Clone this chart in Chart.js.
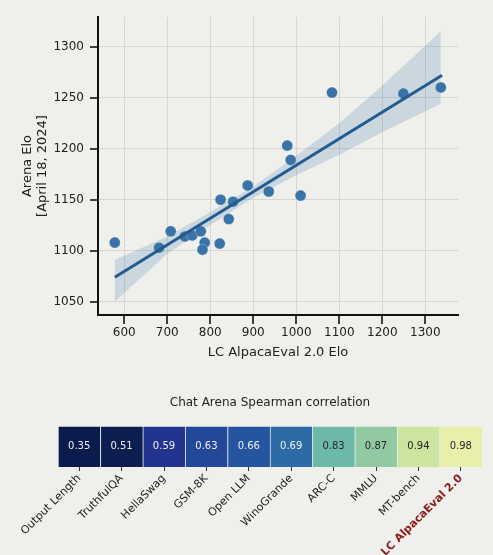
<!DOCTYPE html>
<html>
<head>
<meta charset="utf-8">
<script src="https://cdn.jsdelivr.net/npm/chart.js@4.4.1/dist/chart.umd.min.js"></script>
<style>
  html, body { margin: 0; padding: 0; background: #efefeb; }
  #wrap { position: relative; width: 493px; height: 555px; }
  #scatterBox { position: absolute; left: 0; top: 0; width: 493px; height: 380px; }
  #heatBox { position: absolute; left: 0; top: 380px; width: 493px; height: 175px; }
</style>
</head>
<body>
<div id="wrap">
  <div id="scatterBox"><canvas id="scatter"></canvas></div>
  <div id="heatBox"><canvas id="heat"></canvas></div>
</div>
<script>
// scatter: LC AlpacaEval 2.0 Elo vs Arena Elo
const aeElo = [578, 681, 708, 741, 758, 778, 787, 782, 822, 824, 843, 853, 887, 936, 979, 987, 1010, 1083, 1249, 1336];
const arenaElo = [1108, 1103, 1119, 1114, 1115, 1119, 1108, 1101, 1107, 1150, 1131, 1148, 1164, 1158, 1203, 1189, 1154, 1255, 1254, 1260];

// regression line and its confidence band
const fitX = [578, 1339];
const fitY = [1074, 1272];
const bandX = [578, 700, 800, 900, 1000, 1100, 1200, 1336];
const bandUpper = [1091, 1114, 1138, 1163, 1193, 1225, 1262, 1315];
const bandLower = [1050, 1097, 1125, 1152, 1174, 1194, 1216, 1244];

const xTicks = [600, 700, 800, 900, 1000, 1100, 1200, 1300];
const yTicks = [1050, 1100, 1150, 1200, 1250, 1300];

// heatmap: Spearman correlation with Chat Arena
const benchmarks = ["Output Length", "TruthfulQA", "HellaSwag", "GSM-8K", "Open LLM", "WinoGrande", "ARC-C", "MMLU", "MT-bench", "LC AlpacaEval 2.0"];
const spearman = [0.35, 0.51, 0.59, 0.63, 0.66, 0.69, 0.83, 0.87, 0.94, 0.98];
const cellColors = ["#0b1c4c", "#0c1e50", "#22348e", "#23489a", "#26559f", "#2c6ba6", "#6db9a9", "#92c9a2", "#cde4a0", "#e7efaa"];

const font = "'DejaVu Sans', sans-serif";
Chart.defaults.font.family = font;
Chart.defaults.color = "#222";

const toPts = (xs, ys) => xs.map((x, i) => ({ x: x, y: ys[i] }));

// outward tick marks on both axes
const tickMarks = {
	id: "outTicks",
	afterDraw(chart) {
		const ctx = chart.ctx;
		const xs = chart.scales.x;
		const ys = chart.scales.y;
		const area = chart.chartArea;
		ctx.save();
		ctx.strokeStyle = "#111";
		ctx.lineWidth = 1.6;
		xTicks.forEach((v) => {
			const px = Math.round(xs.getPixelForValue(v));
			ctx.beginPath();
			ctx.moveTo(px, area.bottom);
			ctx.lineTo(px, area.bottom + 9);
			ctx.stroke();
		});
		yTicks.forEach((v) => {
			const py = Math.round(ys.getPixelForValue(v));
			ctx.beginPath();
			ctx.moveTo(area.left, py);
			ctx.lineTo(area.left - 8, py);
			ctx.stroke();
		});
		ctx.restore();
	}
};

new Chart(document.getElementById("scatter"), {
	type: "scatter",
	data: {
		datasets: [
			{
				data: toPts(bandX, bandLower),
				showLine: true,
				pointRadius: 0,
				borderWidth: 0,
				borderColor: "rgba(0,0,0,0)",
				order: 4
			},
			{
				data: toPts(bandX, bandUpper),
				showLine: true,
				pointRadius: 0,
				borderWidth: 0,
				borderColor: "rgba(0,0,0,0)",
				fill: "-1",
				backgroundColor: "rgba(60,120,175,0.2)",
				order: 3
			},
			{
				data: toPts(aeElo, arenaElo),
				pointRadius: 5.5,
				pointBackgroundColor: "#3a73a8",
				pointBorderColor: "rgba(255,255,255,0.35)",
				pointBorderWidth: 0.8,
				order: 2
			},
			{
				data: toPts(fitX, fitY),
				showLine: true,
				pointRadius: 0,
				borderColor: "#245b8e",
				borderWidth: 3,
				order: 1
			}
		]
	},
	options: {
		responsive: true,
		maintainAspectRatio: false,
		animation: false,
		layout: { padding: { top: 17, right: 35, left: 0, bottom: 20 } },
		plugins: {
			legend: { display: false },
			tooltip: { enabled: false }
		},
		scales: {
			x: {
				type: "linear",
				min: 539,
				max: 1376,
				afterBuildTicks: (scale) => {
					scale.ticks = xTicks.map((v) => ({ value: v }));
				},
				afterFit: (scale) => {
					scale.height = 45;
					scale.paddingLeft = 0;
					scale.paddingRight = 0;
				},
				ticks: { font: { size: 12 }, padding: 11, maxRotation: 0, color: "#222", callback: (v) => String(v) },
				grid: { color: "#d6d6d2", drawTicks: false, lineWidth: 1 },
				border: { color: "#111", width: 2 },
				title: {
					display: true,
					text: "LC AlpacaEval 2.0 Elo",
					font: { size: 13 },
					padding: { top: 2, bottom: 0 },
					color: "#222"
				}
			},
			y: {
				type: "linear",
				min: 1037,
				max: 1329,
				afterBuildTicks: (scale) => {
					scale.ticks = yTicks.map((v) => ({ value: v }));
				},
				afterFit: (scale) => {
					scale.width = 98;
					scale.paddingTop = 0;
					scale.paddingBottom = 0;
				},
				ticks: { font: { size: 12 }, padding: 14, color: "#222", callback: (v) => String(v) },
				grid: { color: "#d6d6d2", drawTicks: false, lineWidth: 1 },
				border: { color: "#111", width: 2 },
				title: {
					display: true,
					text: ["Arena Elo", "[April 18, 2024]"],
					font: { size: 13, lineHeight: 1.15 },
					padding: { top: 20, bottom: 4 },
					color: "#222"
				}
			}
		}
	},
	plugins: [tickMarks]
});

const cellText = {
	id: "cellText",
	afterDatasetsDraw(chart) {
		const ctx = chart.ctx;
		const meta = chart.getDatasetMeta(0);
		ctx.save();
		ctx.font = "10px " + font;
		ctx.textAlign = "center";
		ctx.textBaseline = "middle";
		meta.data.forEach((bar, i) => {
			const cy = (bar.y + bar.base) / 2;
			ctx.fillStyle = spearman[i] < 0.75 ? "#eef0f4" : "#262626";
			ctx.fillText(spearman[i].toFixed(2), bar.x, cy);
		});
		ctx.restore();
	}
};

new Chart(document.getElementById("heat"), {
	type: "bar",
	data: {
		labels: benchmarks,
		datasets: [
			{
				data: spearman.map(() => 1),
				backgroundColor: cellColors,
				borderColor: "rgba(235,238,235,0.7)",
				borderWidth: { left: 1, right: 0, top: 0, bottom: 0 },
				borderSkipped: false,
				barPercentage: 1,
				categoryPercentage: 1
			}
		]
	},
	options: {
		responsive: true,
		maintainAspectRatio: false,
		animation: false,
		layout: { padding: { top: 0, right: 11, left: 58, bottom: 0 } },
		plugins: {
			legend: { display: false },
			tooltip: { enabled: false },
			title: {
				display: true,
				text: "Chat Arena Spearman correlation",
				font: { size: 12, weight: "normal" },
				color: "#222",
				padding: { top: 16, bottom: 16 }
			}
		},
		scales: {
			x: {
				afterFit: (scale) => {
					scale.height = 88;
				},
				ticks: {
					minRotation: 45,
					maxRotation: 45,
					padding: 1,
					autoSkip: false,
					color: (c) => (c.index === 9 ? "#8b1a1a" : "#222"),
					font: (c) => ({ size: 11, weight: c.index === 9 ? "bold" : "normal" })
				},
				grid: { display: true, offset: false, drawOnChartArea: false, drawTicks: true, tickLength: 4, tickColor: "#333" },
				border: { display: false }
			},
			y: {
				display: false,
				min: 0,
				max: 1
			}
		}
	},
	plugins: [cellText]
});
</script>
</body>
</html>
